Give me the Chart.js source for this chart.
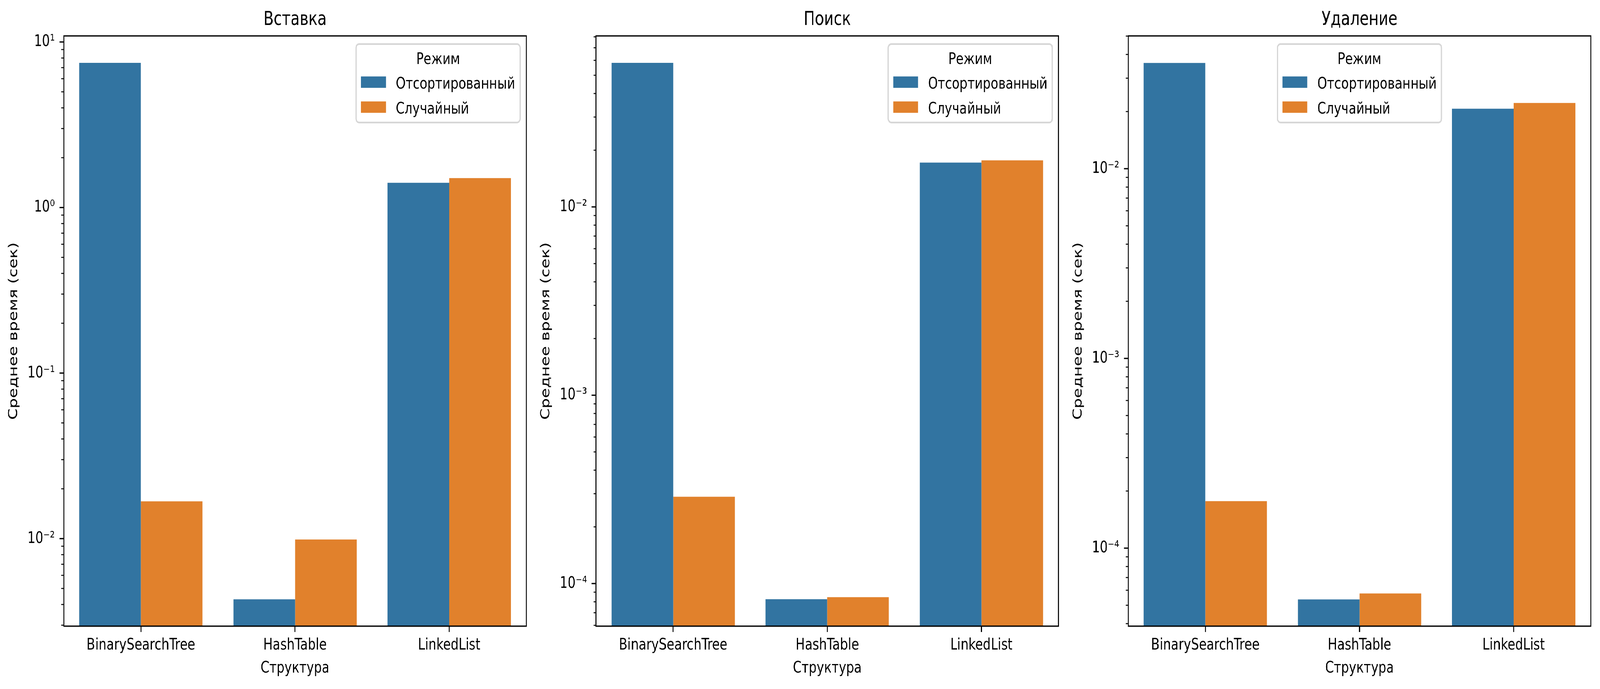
<!DOCTYPE html>
<html>
<head>
<meta charset="utf-8">
<script src="https://cdn.jsdelivr.net/npm/chart.js@4.4.1/dist/chart.umd.min.js"></script>
<style>
html, body { margin: 0; padding: 0; background: #fff; overflow: hidden; }
#view { position: relative; width: 100vw; height: 100vh; overflow: hidden; background: #fff; }
#wrap { position: absolute; left: 0; top: 0; width: 5366px; height: 1765px; background: #fff; transform-origin: 0 0; }
.panel { position: absolute; top: 0; width: 1785px; height: 1765px; }
</style>
</head>
<body>
<div id="view">
<div id="wrap">
    <div class="panel" style="left:0px"><canvas id="chartInsert" width="1785" height="1765"></canvas></div>
    <div class="panel" style="left:1785px"><canvas id="chartSearch" width="1785" height="1765"></canvas></div>
    <div class="panel" style="left:3570px"><canvas id="chartDelete" width="1785" height="1765"></canvas></div>
</div>
</div>
<script>
var structures = ['BinarySearchTree', 'HashTable', 'LinkedList'];
var modeLabels = ['Отсортированный', 'Случайный'];
var modeColors = ['#3274a1', '#e1812c'];

var insertSorted = [7.48, 0.0043, 1.41];
var insertRandom = [0.0168, 0.00988, 1.505];
var searchSorted = [0.0582, 0.0000826, 0.0172];
var searchRandom = [0.000289, 0.0000847, 0.01766];
var deleteSorted = [0.0361, 0.0000537, 0.0207];
var deleteRandom = [0.000177, 0.0000577, 0.0222];

var panelTitles = ['Вставка', 'Поиск', 'Удаление'];
var yMins = [0.00296, 0.0000594, 0.0000388];
var yMaxs = [10.88, 0.0809, 0.0501];

var xTitle = 'Структура';
var yTitle = 'Среднее время (сек)';
var legendTitle = 'Режим';

var FONT = "'DejaVu Sans'";
var FS = 41.7;

// stretch the 5366x1765 drawing over the viewport we actually get
var fitX = window.innerWidth / 5366;
var fitY = window.innerHeight / 1765;
document.getElementById('wrap').style.transform = 'scale(' + fitX + ',' + fitY + ')';
var pixelRatio = Math.max(1, Math.max(fitX, fitY) * (window.devicePixelRatio || 1));

Chart.defaults.font.family = FONT;
Chart.defaults.color = '#000';

var supMap = { '-': '⁻', '0': '⁰', '1': '¹', '2': '²', '3': '³', '4': '⁴', '5': '⁵', '6': '⁶', '7': '⁷', '8': '⁸', '9': '⁹' };

function powLabel(value) {
    var e = Math.log10(value);
    var r = Math.round(e);
    if (Math.abs(e - r) > 1e-9) {
        return '';
    }
    return '10' + String(r).split('').map(function (c) { return supMap[c]; }).join('');
}

function logTicks(scale) {
    var ticks = [];
    var lo = scale.min, hi = scale.max;
    for (var k = Math.floor(Math.log10(lo)); k <= Math.ceil(Math.log10(hi)); k++) {
        for (var m = 1; m < 10; m++) {
            var v = m * Math.pow(10, k);
            if (v >= lo && v <= hi) {
                ticks.push({ value: v, major: m === 1 });
            }
        }
    }
    scale.ticks = ticks;
}

// frame, y tick marks and the legend box inside the plot
var framePlugin = {
    id: 'framePlugin',
    afterDatasetsDraw: function (chart, args, opts) {
        var ctx = chart.ctx;
        var a = chart.chartArea;
        var yScale = chart.scales.y;
        ctx.save();

        ctx.strokeStyle = '#000';
        yScale.ticks.forEach(function (t) {
            var py = yScale.getPixelForValue(t.value);
            ctx.lineWidth = t.major ? 3.3 : 2.5;
            ctx.beginPath();
            ctx.moveTo(a.left - (t.major ? 14.6 : 8.3), py);
            ctx.lineTo(a.left, py);
            ctx.stroke();
        });

        ctx.lineWidth = 3.3;
        ctx.strokeRect(a.left, a.top, a.right - a.left, a.bottom - a.top);

        ctx.font = FS + 'px ' + FONT;
        var labels = chart.data.datasets.map(function (d) { return d.label; });
        var textW = Math.max.apply(null, labels.map(function (l) { return ctx.measureText(l).width; }));
        var pad = 0.4 * FS, handleW = 2 * FS, handleH = 0.7 * FS, gap = 0.8 * FS;
        var w = pad + handleW + gap + textW + pad;
        var h = 201;
        var x = opts.align === 'center' ? (a.left + a.right) / 2 - w / 2 : a.right - 20.8 - w;
        var y = a.top + 20.8;

        ctx.beginPath();
        ctx.roundRect(x, y, w, h, 10);
        ctx.fillStyle = 'rgba(255,255,255,0.8)';
        ctx.fill();
        ctx.lineWidth = 4.2;
        ctx.strokeStyle = '#d6d6d6';
        ctx.stroke();

        ctx.fillStyle = '#000';
        ctx.textBaseline = 'alphabetic';
        ctx.textAlign = 'center';
        ctx.fillText(legendTitle, x + w / 2, y + 51);

        ctx.textAlign = 'left';
        chart.data.datasets.forEach(function (d, i) {
            ctx.fillStyle = d.backgroundColor;
            ctx.fillRect(x + pad, y + 83 + 64 * i, handleW, handleH);
            ctx.fillStyle = '#000';
            ctx.fillText(d.label, x + pad + handleW + gap, y + 114 + 64 * i);
        });
        ctx.restore();
    }
};

function buildChart(canvasId, title, sorted, random, yMin, yMax, legendAlign) {
    return new Chart(document.getElementById(canvasId), {
        type: 'bar',
        data: {
            labels: structures,
            datasets: [
                { label: modeLabels[0], data: sorted, backgroundColor: modeColors[0] },
                { label: modeLabels[1], data: random, backgroundColor: modeColors[1] }
            ]
        },
        options: {
            responsive: false,
            animation: false,
            devicePixelRatio: pixelRatio,
            layout: { padding: { left: 0, right: 20, top: 0, bottom: 0 } },
            datasets: {
                bar: { categoryPercentage: 0.8, barPercentage: 1.0, borderWidth: 0 }
            },
            plugins: {
                legend: { display: false },
                tooltip: { enabled: false },
                title: {
                    display: true,
                    text: title,
                    fullSize: false,
                    color: '#000',
                    font: { size: 50, weight: 'normal', family: FONT },
                    padding: { top: 21, bottom: 11 }
                },
                framePlugin: { align: legendAlign }
            },
            scales: {
                x: {
                    type: 'category',
                    border: { display: false },
                    grid: { offset: false, drawOnChartArea: false, drawTicks: true, tickLength: 15, tickWidth: 3.3, tickColor: '#000' },
                    ticks: { font: { size: FS }, padding: 9, maxRotation: 0, autoSkip: false },
                    title: { display: true, text: xTitle, font: { size: FS }, padding: { top: 28, bottom: 28 } },
                    afterFit: function (scale) { scale.height = 161; }
                },
                y: {
                    type: 'logarithmic',
                    min: yMin,
                    max: yMax,
                    border: { display: false },
                    grid: { display: false, drawTicks: false },
                    afterBuildTicks: logTicks,
                    ticks: { font: { size: FS }, padding: 30, autoSkip: false, callback: powLabel },
                    title: { display: true, text: yTitle, font: { size: FS }, padding: { top: 21, bottom: 21 } },
                    afterFit: function (scale) { scale.width = 214; }
                }
            }
        },
        plugins: [framePlugin]
    });
}

buildChart('chartInsert', panelTitles[0], insertSorted, insertRandom, yMins[0], yMaxs[0], 'right');
buildChart('chartSearch', panelTitles[1], searchSorted, searchRandom, yMins[1], yMaxs[1], 'right');
buildChart('chartDelete', panelTitles[2], deleteSorted, deleteRandom, yMins[2], yMaxs[2], 'center');
</script>
</body>
</html>
